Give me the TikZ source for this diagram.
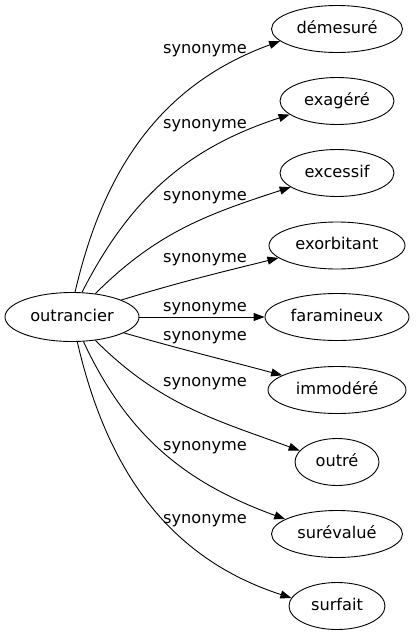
\documentclass[tikz,border=0pt]{standalone}
\usepackage{fontspec}
\setmainfont{DejaVu Sans}
\usetikzlibrary{arrows.meta,shapes.geometric}
\begin{document}
\begin{tikzpicture}[x=1pt,y=1pt,
  every node/.style={font=\fontsize{16.2}{19}\selectfont, text height=11.86pt, text depth=3pt, inner sep=0pt},
  word/.style={draw, ellipse, line width=0.9pt, minimum height=47pt},
  lbl/.style={},
  syn/.style={draw, line width=0.9pt, -{Triangle[length=11pt,width=8pt]}}
]
\useasboundingbox (0,0) rectangle (416,-635);
\node[word, minimum width=134pt, minimum height=49pt] (src) at (72,-317) {outrancier};
\node[word, minimum width=131pt] (t1) at (337,-29) {démesuré};
\node[word, minimum width=114pt] (t2) at (337,-101) {exagéré};
\node[word, minimum width=114pt] (t3) at (337,-173) {excessif};
\node[word, minimum width=136pt] (t4) at (337,-245.5) {exorbitant};
\node[word, minimum width=144pt] (t5) at (337,-317) {faramineux};
\node[word, minimum width=138pt] (t6) at (337,-390) {immodéré};
\node[word, minimum width=84pt] (t7) at (337,-462) {outré};
\node[word, minimum width=131pt] (t8) at (337,-534) {surévalué};
\node[word, minimum width=96pt] (t9) at (337,-606) {surfait};

\node[lbl] (l1) at (205,-49.3) {synonyme};
\node[lbl] (l2) at (205,-124) {synonyme};
\node[lbl] (l3) at (205,-195.7) {synonyme};
\node[lbl] (l4) at (205,-258.3) {synonyme};
\node[lbl] (l5) at (205,-307) {synonyme};
\node[lbl] (l6) at (205,-336) {synonyme};
\node[lbl] (l7) at (205,-382) {synonyme};
\node[lbl] (l8) at (205,-446) {synonyme};
\node[lbl] (l9) at (205,-519.3) {synonyme};

\draw[syn] (src.83) to[out=77,in=200] (t1.192.7);
\draw[syn] (src.68) to[out=63,in=198] (t2.196);
\draw[syn] (src.45) to[out=45,in=198] (t3.197.7);
\draw[syn] (src.19) to[out=17,in=194] (t4.192);
\draw[syn] (src.0) -- (t5.180);
\draw[syn] (src.-17) to[out=-16,in=165] (t6.165);
\draw[syn] (src.-45) to[out=-45,in=160] (t7.163);
\draw[syn] (src.-65) to[out=-65,in=160] (t8.164.6);
\draw[syn] (src.-78) to[out=-77,in=162] (t9.170);
\end{tikzpicture}
\end{document}
